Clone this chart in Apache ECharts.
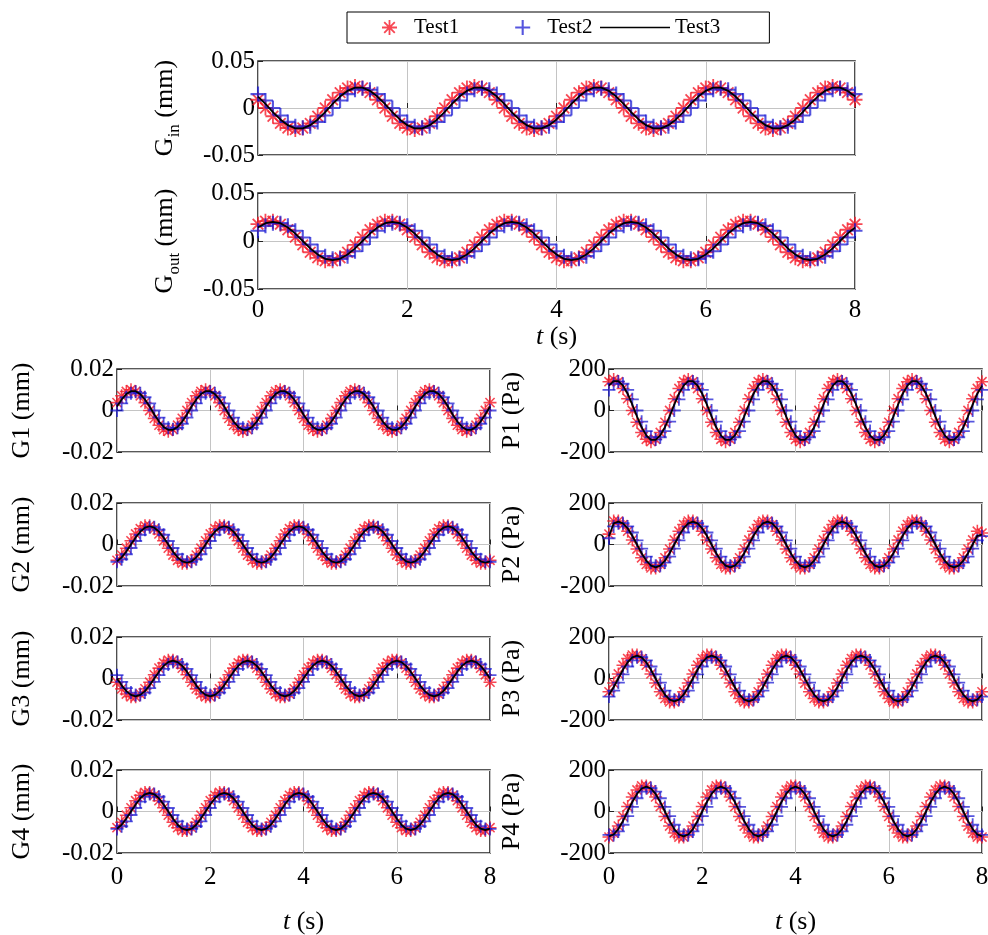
<!DOCTYPE html>
<html><head><meta charset="utf-8">
<script src="https://cdn.jsdelivr.net/npm/echarts@6/dist/echarts.min.js"></script>
<style>html,body{margin:0;padding:0;background:#fff}#c{width:988px;height:935px}</style>
</head><body><div id="c"></div>
<script>
// ---- time samples (s) ----
const times = [0,0.1,0.2,0.3,0.4,0.5,0.6,0.7,0.8,0.9,1,1.1,1.2,1.3,1.4,1.5,1.6,1.7,1.8,1.9,2,2.1,2.2,2.3,2.4,2.5,2.6,2.7,2.8,2.9,3,3.1,3.2,3.3,3.4,3.5,3.6,3.7,3.8,3.9,4,4.1,4.2,4.3,4.4,4.5,4.6,4.7,4.8,4.9,5,5.1,5.2,5.3,5.4,5.5,5.6,5.7,5.8,5.9,6,6.1,6.2,6.3,6.4,6.5,6.6,6.7,6.8,6.9,7,7.1,7.2,7.3,7.4,7.5,7.6,7.7,7.8,7.9,8];

// ---- tick labels ----
const tTicks = [0, 2, 4, 6, 8];
const gBigTicks = [-0.05, 0, 0.05];
const gTicks = [-0.02, 0, 0.02];
const pTicks = [-200, 0, 200];
const seriesNames = ['Test1', 'Test2', 'Test3'];

// ---- Gin (mm) ----
const ginTest1 = [
.0088,0,-.0088,-.0163,-.0213,-.023,-.0213,-.0163,-.0088,0,.0088,.0163,.0213,.023,.0213,.0163,
.0088,0,-.0088,-.0163,-.0213,-.023,-.0213,-.0163,-.0088,0,.0088,.0163,.0213,.023,.0213,.0163,
.0088,0,-.0088,-.0163,-.0213,-.023,-.0213,-.0163,-.0088,0,.0088,.0163,.0213,.023,.0213,.0163,
.0088,0,-.0088,-.0163,-.0213,-.023,-.0213,-.0163,-.0088,0,.0088,.0163,.0213,.023,.0213,.0163,
.0088,0,-.0088,-.0163,-.0213,-.023,-.0213,-.0163,-.0088,0,.0088,.0163,.0213,.023,.0213,.0163,
.0088];
const ginTest2 = [
.0148,.008,0,-.008,-.0148,-.0194,-.021,-.0194,-.0148,-.008,0,.008,.0148,.0194,.021,.0194,
.0148,.008,0,-.008,-.0148,-.0194,-.021,-.0194,-.0148,-.008,0,.008,.0148,.0194,.021,.0194,
.0148,.008,0,-.008,-.0148,-.0194,-.021,-.0194,-.0148,-.008,0,.008,.0148,.0194,.021,.0194,
.0148,.008,0,-.008,-.0148,-.0194,-.021,-.0194,-.0148,-.008,0,.008,.0148,.0194,.021,.0194,
.0148,.008,0,-.008,-.0148,-.0194,-.021,-.0194,-.0148,-.008,0,.008,.0148,.0194,.021,.0194,
.0148];
const ginTest3 = [
.0122,.0043,-.0043,-.0122,-.0183,-.0216,-.0216,-.0183,-.0122,-.0043,.0043,.0122,.0183,.0216,.0216,.0183,
.0122,.0043,-.0043,-.0122,-.0183,-.0216,-.0216,-.0183,-.0122,-.0043,.0043,.0122,.0183,.0216,.0216,.0183,
.0122,.0043,-.0043,-.0122,-.0183,-.0216,-.0216,-.0183,-.0122,-.0043,.0043,.0122,.0183,.0216,.0216,.0183,
.0122,.0043,-.0043,-.0122,-.0183,-.0216,-.0216,-.0183,-.0122,-.0043,.0043,.0122,.0183,.0216,.0216,.0183,
.0122,.0043,-.0043,-.0122,-.0183,-.0216,-.0216,-.0183,-.0122,-.0043,.0043,.0122,.0183,.0216,.0216,.0183,
.0122];

// ---- Gout (mm) ----
const goutTest1 = [
.0175,.0206,.0206,.0175,.0117,.0041,-.0041,-.0117,-.0175,-.0206,-.0206,-.0175,-.0117,-.0041,.0041,.0117,
.0175,.0206,.0206,.0175,.0117,.0041,-.0041,-.0117,-.0175,-.0206,-.0206,-.0175,-.0117,-.0041,.0041,.0117,
.0175,.0206,.0206,.0175,.0117,.0041,-.0041,-.0117,-.0175,-.0206,-.0206,-.0175,-.0117,-.0041,.0041,.0117,
.0175,.0206,.0206,.0175,.0117,.0041,-.0041,-.0117,-.0175,-.0206,-.0206,-.0175,-.0117,-.0041,.0041,.0117,
.0175,.0206,.0206,.0175,.0117,.0041,-.0041,-.0117,-.0175,-.0206,-.0206,-.0175,-.0117,-.0041,.0041,.0117,
.0175];
const goutTest2 = [
.0106,.0158,.0186,.0186,.0158,.0106,.0037,-.0037,-.0106,-.0158,-.0186,-.0186,-.0158,-.0106,-.0037,.0037,
.0106,.0158,.0186,.0186,.0158,.0106,.0037,-.0037,-.0106,-.0158,-.0186,-.0186,-.0158,-.0106,-.0037,.0037,
.0106,.0158,.0186,.0186,.0158,.0106,.0037,-.0037,-.0106,-.0158,-.0186,-.0186,-.0158,-.0106,-.0037,.0037,
.0106,.0158,.0186,.0186,.0158,.0106,.0037,-.0037,-.0106,-.0158,-.0186,-.0186,-.0158,-.0106,-.0037,.0037,
.0106,.0158,.0186,.0186,.0158,.0106,.0037,-.0037,-.0106,-.0158,-.0186,-.0186,-.0158,-.0106,-.0037,.0037,
.0106];
const goutTest3 = [
.0141,.0185,.02,.0185,.0141,.0077,0,-.0077,-.0141,-.0185,-.02,-.0185,-.0141,-.0077,0,.0077,
.0141,.0185,.02,.0185,.0141,.0077,0,-.0077,-.0141,-.0185,-.02,-.0185,-.0141,-.0077,0,.0077,
.0141,.0185,.02,.0185,.0141,.0077,0,-.0077,-.0141,-.0185,-.02,-.0185,-.0141,-.0077,0,.0077,
.0141,.0185,.02,.0185,.0141,.0077,0,-.0077,-.0141,-.0185,-.02,-.0185,-.0141,-.0077,0,.0077,
.0141,.0185,.02,.0185,.0141,.0077,0,-.0077,-.0141,-.0185,-.02,-.0185,-.0141,-.0077,0,.0077,
.0141];

// ---- G1 (mm) ----
const g1Test1 = [
.0038,.0071,.0092,.01,.0092,.0071,.0038,0,-.0038,-.0071,-.0092,-.01,-.0092,-.0071,-.0038,0,
.0038,.0071,.0092,.01,.0092,.0071,.0038,0,-.0038,-.0071,-.0092,-.01,-.0092,-.0071,-.0038,0,
.0038,.0071,.0092,.01,.0092,.0071,.0038,0,-.0038,-.0071,-.0092,-.01,-.0092,-.0071,-.0038,0,
.0038,.0071,.0092,.01,.0092,.0071,.0038,0,-.0038,-.0071,-.0092,-.01,-.0092,-.0071,-.0038,0,
.0038,.0071,.0092,.01,.0092,.0071,.0038,0,-.0038,-.0071,-.0092,-.01,-.0092,-.0071,-.0038,0,
.0038];
const g1Test2 = [
0,.0034,.0064,.0083,.009,.0083,.0064,.0034,0,-.0034,-.0064,-.0083,-.009,-.0083,-.0064,-.0034,
0,.0034,.0064,.0083,.009,.0083,.0064,.0034,0,-.0034,-.0064,-.0083,-.009,-.0083,-.0064,-.0034,
0,.0034,.0064,.0083,.009,.0083,.0064,.0034,0,-.0034,-.0064,-.0083,-.009,-.0083,-.0064,-.0034,
0,.0034,.0064,.0083,.009,.0083,.0064,.0034,0,-.0034,-.0064,-.0083,-.009,-.0083,-.0064,-.0034,
0,.0034,.0064,.0083,.009,.0083,.0064,.0034,0,-.0034,-.0064,-.0083,-.009,-.0083,-.0064,-.0034,
0];
const g1Test3 = [
.0019,.0053,.0079,.0093,.0093,.0079,.0053,.0019,-.0019,-.0053,-.0079,-.0093,-.0093,-.0079,-.0053,-.0019,
.0019,.0053,.0079,.0093,.0093,.0079,.0053,.0019,-.0019,-.0053,-.0079,-.0093,-.0093,-.0079,-.0053,-.0019,
.0019,.0053,.0079,.0093,.0093,.0079,.0053,.0019,-.0019,-.0053,-.0079,-.0093,-.0093,-.0079,-.0053,-.0019,
.0019,.0053,.0079,.0093,.0093,.0079,.0053,.0019,-.0019,-.0053,-.0079,-.0093,-.0093,-.0079,-.0053,-.0019,
.0019,.0053,.0079,.0093,.0093,.0079,.0053,.0019,-.0019,-.0053,-.0079,-.0093,-.0093,-.0079,-.0053,-.0019,
.0019];

// ---- P1 (Pa) ----
const p1Test1 = [
139,150,139,106,57,0,-57,-106,-139,-150,-139,-106,-57,0,57,106,
139,150,139,106,57,0,-57,-106,-139,-150,-139,-106,-57,0,57,106,
139,150,139,106,57,0,-57,-106,-139,-150,-139,-106,-57,0,57,106,
139,150,139,106,57,0,-57,-106,-139,-150,-139,-106,-57,0,57,106,
139,150,139,106,57,0,-57,-106,-139,-150,-139,-106,-57,0,57,106,
139];
const p1Test2 = [
99,129,140,129,99,54,0,-54,-99,-129,-140,-129,-99,-54,0,54,
99,129,140,129,99,54,0,-54,-99,-129,-140,-129,-99,-54,0,54,
99,129,140,129,99,54,0,-54,-99,-129,-140,-129,-99,-54,0,54,
99,129,140,129,99,54,0,-54,-99,-129,-140,-129,-99,-54,0,54,
99,129,140,129,99,54,0,-54,-99,-129,-140,-129,-99,-54,0,54,
99];
const p1Test3 = [
120,142,142,120,81,28,-28,-81,-120,-142,-142,-120,-81,-28,28,81,
120,142,142,120,81,28,-28,-81,-120,-142,-142,-120,-81,-28,28,81,
120,142,142,120,81,28,-28,-81,-120,-142,-142,-120,-81,-28,28,81,
120,142,142,120,81,28,-28,-81,-120,-142,-142,-120,-81,-28,28,81,
120,142,142,120,81,28,-28,-81,-120,-142,-142,-120,-81,-28,28,81,
120];

// ---- G2 (mm) ----
const g2Test1 = [
-.0076,-.0051,-.0018,.0018,.0051,.0076,.009,.009,.0076,.0051,.0018,-.0018,-.0051,-.0076,-.009,-.009,
-.0076,-.0051,-.0018,.0018,.0051,.0076,.009,.009,.0076,.0051,.0018,-.0018,-.0051,-.0076,-.009,-.009,
-.0076,-.0051,-.0018,.0018,.0051,.0076,.009,.009,.0076,.0051,.0018,-.0018,-.0051,-.0076,-.009,-.009,
-.0076,-.0051,-.0018,.0018,.0051,.0076,.009,.009,.0076,.0051,.0018,-.0018,-.0051,-.0076,-.009,-.009,
-.0076,-.0051,-.0018,.0018,.0051,.0076,.009,.009,.0076,.0051,.0018,-.0018,-.0051,-.0076,-.009,-.009,
-.0076];
const g2Test2 = [
-.0083,-.0071,-.0047,-.0017,.0017,.0047,.0071,.0083,.0083,.0071,.0047,.0017,-.0017,-.0047,-.0071,-.0083,
-.0083,-.0071,-.0047,-.0017,.0017,.0047,.0071,.0083,.0083,.0071,.0047,.0017,-.0017,-.0047,-.0071,-.0083,
-.0083,-.0071,-.0047,-.0017,.0017,.0047,.0071,.0083,.0083,.0071,.0047,.0017,-.0017,-.0047,-.0071,-.0083,
-.0083,-.0071,-.0047,-.0017,.0017,.0047,.0071,.0083,.0083,.0071,.0047,.0017,-.0017,-.0047,-.0071,-.0083,
-.0083,-.0071,-.0047,-.0017,.0017,.0047,.0071,.0083,.0083,.0071,.0047,.0017,-.0017,-.0047,-.0071,-.0083,
-.0083];
const g2Test3 = [
-.0081,-.0062,-.0034,0,.0034,.0062,.0081,.0088,.0081,.0062,.0034,0,-.0034,-.0062,-.0081,-.0088,
-.0081,-.0062,-.0034,0,.0034,.0062,.0081,.0088,.0081,.0062,.0034,0,-.0034,-.0062,-.0081,-.0088,
-.0081,-.0062,-.0034,0,.0034,.0062,.0081,.0088,.0081,.0062,.0034,0,-.0034,-.0062,-.0081,-.0088,
-.0081,-.0062,-.0034,0,.0034,.0062,.0081,.0088,.0081,.0062,.0034,0,-.0034,-.0062,-.0081,-.0088,
-.0081,-.0062,-.0034,0,.0034,.0062,.0081,.0088,.0081,.0062,.0034,0,-.0034,-.0062,-.0081,-.0088,
-.0081];

// ---- P2 (Pa) ----
const p2Test1 = [
50,113,113,96,64,22,-22,-64,-96,-113,-113,-96,-64,-22,22,64,
96,113,113,96,64,22,-22,-64,-96,-113,-113,-96,-64,-22,22,64,
96,113,113,96,64,22,-22,-64,-96,-113,-113,-96,-64,-22,22,64,
96,113,113,96,64,22,-22,-64,-96,-113,-113,-96,-64,-22,22,64,
96,113,113,96,64,22,-22,-64,-96,-113,-113,-96,-64,-22,22,64,
55];
const p2Test2 = [
30,87,103,103,87,58,20,-20,-58,-87,-103,-103,-87,-58,-20,20,
58,87,103,103,87,58,20,-20,-58,-87,-103,-103,-87,-58,-20,20,
58,87,103,103,87,58,20,-20,-58,-87,-103,-103,-87,-58,-20,20,
58,87,103,103,87,58,20,-20,-58,-87,-103,-103,-87,-58,-20,20,
58,87,103,103,87,58,20,-20,-58,-87,-103,-103,-87,-58,-20,20,
40];
const p2Test3 = [
40,102,110,102,78,42,0,-42,-78,-102,-110,-102,-78,-42,0,42,
78,102,110,102,78,42,0,-42,-78,-102,-110,-102,-78,-42,0,42,
78,102,110,102,78,42,0,-42,-78,-102,-110,-102,-78,-42,0,42,
78,102,110,102,78,42,0,-42,-78,-102,-110,-102,-78,-42,0,42,
78,102,110,102,78,42,0,-42,-78,-102,-110,-102,-78,-42,0,42,
48];

// ---- G3 (mm) ----
const g3Test1 = [
-.0018,-.005,-.0075,-.0088,-.0088,-.0075,-.005,-.0018,.0018,.005,.0075,.0088,.0088,.0075,.005,.0018,
-.0018,-.005,-.0075,-.0088,-.0088,-.0075,-.005,-.0018,.0018,.005,.0075,.0088,.0088,.0075,.005,.0018,
-.0018,-.005,-.0075,-.0088,-.0088,-.0075,-.005,-.0018,.0018,.005,.0075,.0088,.0088,.0075,.005,.0018,
-.0018,-.005,-.0075,-.0088,-.0088,-.0075,-.005,-.0018,.0018,.005,.0075,.0088,.0088,.0075,.005,.0018,
-.0018,-.005,-.0075,-.0088,-.0088,-.0075,-.005,-.0018,.0018,.005,.0075,.0088,.0088,.0075,.005,.0018,
-.0018];
const g3Test2 = [
.0016,-.0016,-.0046,-.0068,-.008,-.008,-.0068,-.0046,-.0016,.0016,.0046,.0068,.008,.008,.0068,.0046,
.0016,-.0016,-.0046,-.0068,-.008,-.008,-.0068,-.0046,-.0016,.0016,.0046,.0068,.008,.008,.0068,.0046,
.0016,-.0016,-.0046,-.0068,-.008,-.008,-.0068,-.0046,-.0016,.0016,.0046,.0068,.008,.008,.0068,.0046,
.0016,-.0016,-.0046,-.0068,-.008,-.008,-.0068,-.0046,-.0016,.0016,.0046,.0068,.008,.008,.0068,.0046,
.0016,-.0016,-.0046,-.0068,-.008,-.008,-.0068,-.0046,-.0016,.0016,.0046,.0068,.008,.008,.0068,.0046,
.0016];
const g3Test3 = [
0,-.0033,-.0061,-.0079,-.0086,-.0079,-.0061,-.0033,0,.0033,.0061,.0079,.0086,.0079,.0061,.0033,
0,-.0033,-.0061,-.0079,-.0086,-.0079,-.0061,-.0033,0,.0033,.0061,.0079,.0086,.0079,.0061,.0033,
0,-.0033,-.0061,-.0079,-.0086,-.0079,-.0061,-.0033,0,.0033,.0061,.0079,.0086,.0079,.0061,.0033,
0,-.0033,-.0061,-.0079,-.0086,-.0079,-.0061,-.0033,0,.0033,.0061,.0079,.0086,.0079,.0061,.0033,
0,-.0033,-.0061,-.0079,-.0086,-.0079,-.0061,-.0033,0,.0033,.0061,.0079,.0086,.0079,.0061,.0033,
0];

// ---- P3 (Pa) ----
const p3Test1 = [
-64,-22,22,64,96,113,113,96,64,22,-22,-64,-96,-113,-113,-96,
-64,-22,22,64,96,113,113,96,64,22,-22,-64,-96,-113,-113,-96,
-64,-22,22,64,96,113,113,96,64,22,-22,-64,-96,-113,-113,-96,
-64,-22,22,64,96,113,113,96,64,22,-22,-64,-96,-113,-113,-96,
-64,-22,22,64,96,113,113,96,64,22,-22,-64,-96,-113,-113,-96,
-64];
const p3Test2 = [
-87,-58,-20,20,58,87,103,103,87,58,20,-20,-58,-87,-103,-103,
-87,-58,-20,20,58,87,103,103,87,58,20,-20,-58,-87,-103,-103,
-87,-58,-20,20,58,87,103,103,87,58,20,-20,-58,-87,-103,-103,
-87,-58,-20,20,58,87,103,103,87,58,20,-20,-58,-87,-103,-103,
-87,-58,-20,20,58,87,103,103,87,58,20,-20,-58,-87,-103,-103,
-87];
const p3Test3 = [
-78,-42,0,42,78,102,110,102,78,42,0,-42,-78,-102,-110,-102,
-78,-42,0,42,78,102,110,102,78,42,0,-42,-78,-102,-110,-102,
-78,-42,0,42,78,102,110,102,78,42,0,-42,-78,-102,-110,-102,
-78,-42,0,42,78,102,110,102,78,42,0,-42,-78,-102,-110,-102,
-78,-42,0,42,78,102,110,102,78,42,0,-42,-78,-102,-110,-102,
-78];

// ---- G4 (mm) ----
const g4Test1 = [
-.0078,-.0052,-.0018,.0018,.0052,.0078,.0092,.0092,.0078,.0052,.0018,-.0018,-.0052,-.0078,-.0092,-.0092,
-.0078,-.0052,-.0018,.0018,.0052,.0078,.0092,.0092,.0078,.0052,.0018,-.0018,-.0052,-.0078,-.0092,-.0092,
-.0078,-.0052,-.0018,.0018,.0052,.0078,.0092,.0092,.0078,.0052,.0018,-.0018,-.0052,-.0078,-.0092,-.0092,
-.0078,-.0052,-.0018,.0018,.0052,.0078,.0092,.0092,.0078,.0052,.0018,-.0018,-.0052,-.0078,-.0092,-.0092,
-.0078,-.0052,-.0018,.0018,.0052,.0078,.0092,.0092,.0078,.0052,.0018,-.0018,-.0052,-.0078,-.0092,-.0092,
-.0078];
const g4Test2 = [
-.0084,-.0071,-.0048,-.0017,.0017,.0048,.0071,.0084,.0084,.0071,.0048,.0017,-.0017,-.0048,-.0071,-.0084,
-.0084,-.0071,-.0048,-.0017,.0017,.0048,.0071,.0084,.0084,.0071,.0048,.0017,-.0017,-.0048,-.0071,-.0084,
-.0084,-.0071,-.0048,-.0017,.0017,.0048,.0071,.0084,.0084,.0071,.0048,.0017,-.0017,-.0048,-.0071,-.0084,
-.0084,-.0071,-.0048,-.0017,.0017,.0048,.0071,.0084,.0084,.0071,.0048,.0017,-.0017,-.0048,-.0071,-.0084,
-.0084,-.0071,-.0048,-.0017,.0017,.0048,.0071,.0084,.0084,.0071,.0048,.0017,-.0017,-.0048,-.0071,-.0084,
-.0084];
const g4Test3 = [
-.0083,-.0064,-.0034,0,.0034,.0064,.0083,.009,.0083,.0064,.0034,0,-.0034,-.0064,-.0083,-.009,
-.0083,-.0064,-.0034,0,.0034,.0064,.0083,.009,.0083,.0064,.0034,0,-.0034,-.0064,-.0083,-.009,
-.0083,-.0064,-.0034,0,.0034,.0064,.0083,.009,.0083,.0064,.0034,0,-.0034,-.0064,-.0083,-.009,
-.0083,-.0064,-.0034,0,.0034,.0064,.0083,.009,.0083,.0064,.0034,0,-.0034,-.0064,-.0083,-.009,
-.0083,-.0064,-.0034,0,.0034,.0064,.0083,.009,.0083,.0064,.0034,0,-.0034,-.0064,-.0083,-.009,
-.0083];

// ---- P4 (Pa) ----
const p4Test1 = [
-123,-104,-70,-24,24,70,104,123,123,104,70,24,-24,-70,-104,-123,
-123,-104,-70,-24,24,70,104,123,123,104,70,24,-24,-70,-104,-123,
-123,-104,-70,-24,24,70,104,123,123,104,70,24,-24,-70,-104,-123,
-123,-104,-70,-24,24,70,104,123,123,104,70,24,-24,-70,-104,-123,
-123,-104,-70,-24,24,70,104,123,123,104,70,24,-24,-70,-104,-123,
-123];
const p4Test2 = [
-113,-113,-96,-64,-22,22,64,96,113,113,96,64,22,-22,-64,-96,
-113,-113,-96,-64,-22,22,64,96,113,113,96,64,22,-22,-64,-96,
-113,-113,-96,-64,-22,22,64,96,113,113,96,64,22,-22,-64,-96,
-113,-113,-96,-64,-22,22,64,96,113,113,96,64,22,-22,-64,-96,
-113,-113,-96,-64,-22,22,64,96,113,113,96,64,22,-22,-64,-96,
-113];
const p4Test3 = [
-120,-111,-85,-46,0,46,85,111,120,111,85,46,0,-46,-85,-111,
-120,-111,-85,-46,0,46,85,111,120,111,85,46,0,-46,-85,-111,
-120,-111,-85,-46,0,46,85,111,120,111,85,46,0,-46,-85,-111,
-120,-111,-85,-46,0,46,85,111,120,111,85,46,0,-46,-85,-111,
-120,-111,-85,-46,0,46,85,111,120,111,85,46,0,-46,-85,-111,
-120];

// ---- panel definitions (data refs + labels) ----
const panels = [
  {name:'{n|G}{s|in}{n| (mm)}', ticks:gBigTicks, d:[ginTest1, ginTest2, ginTest3]},
  {name:'{n|G}{s|out}{n| (mm)}', ticks:gBigTicks, d:[goutTest1, goutTest2, goutTest3], xlab:true},
  {name:'G1 (mm)', ticks:gTicks, d:[g1Test1, g1Test2, g1Test3]},
  {name:'P1 (Pa)', ticks:pTicks, d:[p1Test1, p1Test2, p1Test3]},
  {name:'G2 (mm)', ticks:gTicks, d:[g2Test1, g2Test2, g2Test3]},
  {name:'P2 (Pa)', ticks:pTicks, d:[p2Test1, p2Test2, p2Test3]},
  {name:'G3 (mm)', ticks:gTicks, d:[g3Test1, g3Test2, g3Test3]},
  {name:'P3 (Pa)', ticks:pTicks, d:[p3Test1, p3Test2, p3Test3]},
  {name:'G4 (mm)', ticks:gTicks, d:[g4Test1, g4Test2, g4Test3], xlab:true},
  {name:'P4 (Pa)', ticks:pTicks, d:[p4Test1, p4Test2, p4Test3], xlab:true}
];

// ---- layout (pixels) ----
const rowTops = [369, 503, 637, 770];
const layout = [
  {left:258, top:61, width:597, height:94, gap:80, nameGap:22, lm:9},
  {left:258, top:193, width:597, height:96, gap:80, nameGap:22, lm:9}
];
for (let r = 0; r < 4; r++) {
  layout.push({left:117, top:rowTops[r], width:373, height:83, gap:82, nameGap:56, lm:12});
  layout.push({left:609, top:rowTops[r], width:373, height:83, gap:84, nameGap:56, lm:12});
}

const FONT = 'Liberation Serif';
const STAR = 'path://M8.8 0L11.2 0L11.2 20L8.8 20Z M0 8.8L20 8.8L20 11.2L0 11.2Z M2.1 3.8L3.8 2.1L17.9 16.2L16.2 17.9Z M16.2 2.1L17.9 3.8L3.8 17.9L2.1 16.2Z';
const PLUS = 'path://M8.6 0L11.4 0L11.4 20L8.6 20Z M0 8.6L20 8.6L20 11.4L0 11.4Z';
const LINEICON = 'path://M0 0L70 0L70 1.5L0 1.5Z';
const colors = ['rgb(245,25,40)', 'rgba(25,25,210,0.92)', '#000'];

const fmt = v => { if (Math.abs(v) < 1e-9) return '0'; return String(+v.toFixed(4)); };
const rich = {
  n: {fontFamily: FONT, fontSize: 26, color: '#000', lineHeight: 26, verticalAlign: 'top'},
  s: {fontFamily: FONT, fontSize: 17, color: '#000', lineHeight: 17, padding: [14,0,0,0], verticalAlign: 'top'},
  i: {fontFamily: FONT, fontSize: 26, color: '#000', fontStyle: 'italic'},
  r: {fontFamily: FONT, fontSize: 26, color: '#000'}
};

const grids = [], xAxes = [], yAxes = [], series = [];
panels.forEach((p, i) => {
  const L = layout[i];
  const top = i < 2;
  grids.push({left: L.left, top: L.top, width: L.width, height: L.height, show: true,
    outerBoundsMode: 'none', containLabel: false,
    borderColor: '#222', borderWidth: 1.6, backgroundColor: 'transparent'});
  xAxes.push({
    type: 'value', gridIndex: i, min: tTicks[0], max: tTicks[tTicks.length-1], interval: tTicks[1]-tTicks[0],
    axisLine: {show: false}, axisTick: {show: true, inside: true, length: 5, lineStyle: {color: '#222'}},
    splitLine: {show: true, lineStyle: {color: '#c4c4c4', width: 1}},
    axisLabel: {show: !!p.xlab, fontFamily: FONT, fontSize: 25, color: '#000', margin: L.lm, formatter: fmt},
    name: p.xlab ? '{i|t} {r|(s)}' : '', nameLocation: 'middle', nameGap: L.nameGap,
    nameTextStyle: {fontFamily: FONT, fontSize: 26, rich: rich}
  });
  yAxes.push({
    type: 'value', gridIndex: i, min: p.ticks[0], max: p.ticks[p.ticks.length-1], interval: p.ticks[1]-p.ticks[0],
    axisLine: {show: false}, axisTick: {show: true, inside: true, length: 5, lineStyle: {color: '#222'}},
    splitLine: {show: true, lineStyle: {color: '#c4c4c4', width: 1}},
    axisLabel: {fontFamily: FONT, fontSize: 25, color: '#000', margin: 3, formatter: fmt},
    name: p.name, nameLocation: 'middle', nameGap: L.gap, nameRotate: 90,
    nameTextStyle: {fontFamily: FONT, fontSize: 26, color: '#000', rich: rich}
  });
  const sz = top ? 15 : 13;
  [0, 1].forEach(k => {
    series.push({
      name: seriesNames[k], type: 'scatter', xAxisIndex: i, yAxisIndex: i,
      symbol: k === 0 ? STAR : PLUS, symbolSize: sz,
      itemStyle: {color: colors[k]},
      data: times.map((t, j) => [t, p.d[k][j]]), z: 2 + k
    });
  });
  series.push({
    name: seriesNames[2], type: 'line', xAxisIndex: i, yAxisIndex: i, showSymbol: false,
    lineStyle: {color: '#000', width: 1.8}, itemStyle: {color: '#000'},
    data: times.map((t, j) => [t, p.d[2][j]]), z: 5
  });
});

const legendRich = {t: {fontFamily: FONT, fontSize: 21, color: '#000', padding: [0, 0, 0, 12]}};
const chart = echarts.init(document.getElementById('c'), null, {renderer: 'canvas'});
chart.setOption({
  animation: false,
  backgroundColor: '#fff',
  textStyle: {fontFamily: FONT},
  legend: [
    {
      left: 347, top: 12, orient: 'horizontal',
      padding: [5, 177, 5, 35], itemGap: 56, itemWidth: 15, itemHeight: 15,
      borderColor: '#000', borderWidth: 1, backgroundColor: '#fff',
      formatter: '{t|{name}}',
      textStyle: {fontFamily: FONT, fontSize: 21, color: '#000', rich: legendRich},
      data: [{name: 'Test1', icon: STAR}, {name: 'Test2', icon: PLUS}]
    },
    {
      left: 600, top: 12, orient: 'horizontal',
      padding: [5, 0, 5, 0], itemWidth: 70, itemHeight: 15,
      textStyle: {fontFamily: FONT, fontSize: 21, color: '#000'},
      data: [{name: 'Test3', icon: LINEICON}]
    }
  ],
  grid: grids, xAxis: xAxes, yAxis: yAxes, series: series
});
</script></body></html>
